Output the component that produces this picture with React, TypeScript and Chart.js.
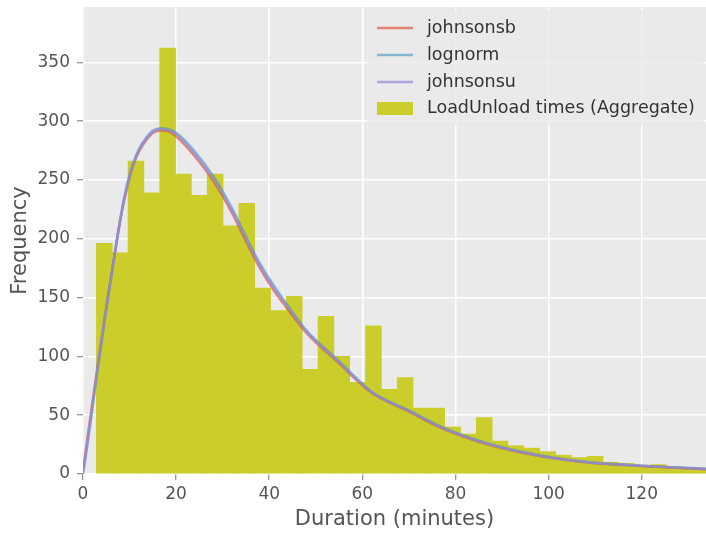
import React, { useEffect, useRef } from 'react';
import { Chart, registerables } from 'chart.js';

Chart.register(...registerables);

// Histogram (bin edges start at BIN_START, constant BIN_WIDTH minutes)
const BIN_START = 2.88;
const BIN_WIDTH = 3.4;
const counts = [196, 188, 266, 239, 362, 255, 237, 255, 211, 230, 158, 139, 151, 89, 134, 100, 78, 126, 72, 82, 56, 56, 40, 34, 48, 28, 24, 22, 19, 16, 14, 15, 10, 9, 7, 8, 6, 5, 5];

// Fitted curves
const curveX = [0, 1, 2, 3, 4.3, 5.4, 6.5, 7.5, 8.6, 9.7, 10.75, 12, 13.6, 15, 16.8, 18.5, 20, 23.6, 28, 32, 34, 36, 38, 41, 44, 48, 55, 62, 70, 77, 87, 98, 109, 120, 134];
const johnsonsb = [3, 32, 60, 88, 123, 152, 179, 204, 228, 247, 262, 274, 284, 290, 292, 291, 287, 272, 249, 222, 206, 190, 175, 156, 140, 120, 94, 69, 53, 39, 25, 15.3, 9.6, 6.8, 4];
const lognorm = [0, 26, 55, 85, 121, 151, 179, 205, 230, 250, 264, 276, 286, 292, 294, 293, 290, 276, 253, 226, 210, 194, 179, 160, 143, 122, 96, 70, 54, 40, 26, 16, 10, 7, 4.5];
const johnsonsu = [1, 29, 58, 87, 122, 151, 179, 204, 229, 248, 263, 275, 285, 291, 293, 292, 289, 274, 251, 224, 208, 192, 177, 158, 142, 121, 95, 69.5, 53.5, 39.5, 25.5, 15.6, 9.8, 7, 4.3];

const xTicks = [0, 20, 40, 60, 80, 100, 120];
const yTicks = [0, 50, 100, 150, 200, 250, 300, 350];
const X_MAX = 133.8;
const Y_MAX = 397;

const legendLabels = ['johnsonsb', 'lognorm', 'johnsonsu', 'LoadUnload times (Aggregate)'];

const RED = 'rgba(226,74,51,0.65)';
const BLUE = 'rgba(52,138,189,0.55)';
const PURPLE = 'rgba(152,142,213,0.75)';
const BAR = 'rgb(202,205,42)';
const BG = '#EAEAEA';
const FONT = '"DejaVu Sans", sans-serif';

const bgPlugin = {
  id: 'plotBg',
  beforeDraw(chart: any) {
    const { ctx, chartArea } = chart;
    ctx.save();
    ctx.fillStyle = BG;
    ctx.fillRect(chartArea.left, chartArea.top, chartArea.right - chartArea.left, chartArea.bottom - chartArea.top);
    ctx.restore();
  },
};

const legendPlugin = {
  id: 'innerLegend',
  afterDatasetsDraw(chart: any) {
    const { ctx } = chart;
    ctx.save();
    ctx.fillStyle = 'rgba(234,234,234,0.8)';
    ctx.fillRect(367, 10, 336, 115);
    const rows = [28, 55, 82, 108];
    const colors = [RED, BLUE, PURPLE];
    for (let i = 0; i < 3; i++) {
      ctx.strokeStyle = colors[i];
      ctx.lineWidth = 2.5;
      ctx.beginPath();
      ctx.moveTo(377, rows[i]);
      ctx.lineTo(413, rows[i]);
      ctx.stroke();
    }
    ctx.fillStyle = BAR;
    ctx.fillRect(377, 102, 36, 13);
    ctx.fillStyle = '#333';
    ctx.font = '17.5px ' + FONT;
    ctx.textBaseline = 'middle';
    ctx.textAlign = 'left';
    legendLabels.forEach((t, i) => ctx.fillText(t, 427, rows[i]));
    ctx.restore();
  },
};

export default function App() {
  const ref = useRef<HTMLCanvasElement>(null);
  useEffect(() => {
    if (!ref.current) return;
    const bars = counts.map((c, i) => ({ x: BIN_START + (i + 0.5) * BIN_WIDTH, y: c }));
    const line = (ys: number[]) => curveX.map((x, i) => ({ x, y: ys[i] }));
    const lineStyle = {
      type: 'line' as const,
      pointRadius: 0,
      borderWidth: 2.5,
      fill: false,
      cubicInterpolationMode: 'monotone' as const,
    };
    const chart = new Chart(ref.current, {
      type: 'bar',
      data: {
        datasets: [
          { ...lineStyle, label: 'johnsonsb', data: line(johnsonsb), borderColor: RED, order: 3 } as any,
          { ...lineStyle, label: 'lognorm', data: line(lognorm), borderColor: BLUE, order: 2 } as any,
          { ...lineStyle, label: 'johnsonsu', data: line(johnsonsu), borderColor: PURPLE, order: 1 } as any,
          {
            type: 'bar',
            label: 'LoadUnload times (Aggregate)',
            data: bars,
            backgroundColor: BAR,
            borderWidth: 0,
            barPercentage: 1,
            categoryPercentage: 1,
            order: 4,
          } as any,
        ],
      },
      options: {
        responsive: false,
        animation: false,
        devicePixelRatio: 1,
        layout: { padding: { top: 7, right: 0, left: 0, bottom: 0 } },
        plugins: { legend: { display: false }, tooltip: { enabled: false } },
        scales: {
          x: {
            type: 'linear',
            min: 0,
            max: X_MAX,
            offset: false,
            grid: { color: '#FFFFFF', lineWidth: 1.5, offset: false, drawTicks: true, tickLength: 6, tickColor: '#777', tickWidth: 1 },
            border: { display: false },
            ticks: { color: '#555', font: { size: 17, family: FONT }, padding: 4, maxRotation: 0 },
            afterBuildTicks: (s: any) => { s.ticks = xTicks.map((v) => ({ value: v })); },
            afterFit: (s: any) => { s.height = 61; s.paddingLeft = 0; s.paddingRight = 0; s.paddingTop = 0; s.paddingBottom = 0; },
            title: { display: true, text: 'Duration (minutes)', color: '#555', font: { size: 21, family: FONT }, padding: { top: 0, bottom: 3 } },
          },
          y: {
            type: 'linear',
            min: 0,
            max: Y_MAX,
            grid: { color: '#FFFFFF', lineWidth: 1.5, drawTicks: true, tickLength: 6, tickColor: '#777', tickWidth: 1 },
            border: { display: false },
            ticks: { color: '#555', font: { size: 17, family: FONT }, padding: 7 },
            afterBuildTicks: (s: any) => { s.ticks = yTicks.map((v) => ({ value: v })); },
            afterFit: (s: any) => { s.width = 83; s.paddingLeft = 0; s.paddingRight = 0; s.paddingTop = 0; s.paddingBottom = 0; },
            title: { display: true, text: 'Frequency', color: '#555', font: { size: 21, family: FONT }, padding: { top: 8, bottom: 0 } },
          },
        },
      },
      plugins: [bgPlugin, legendPlugin],
    });
    return () => chart.destroy();
  }, []);
  return (
    <div style={{ position: 'absolute', left: 0, top: 0, width: 706, height: 535, background: '#fff' }}>
      <canvas ref={ref} width={706} height={535} style={{ display: 'block' }} />
    </div>
  );
}
